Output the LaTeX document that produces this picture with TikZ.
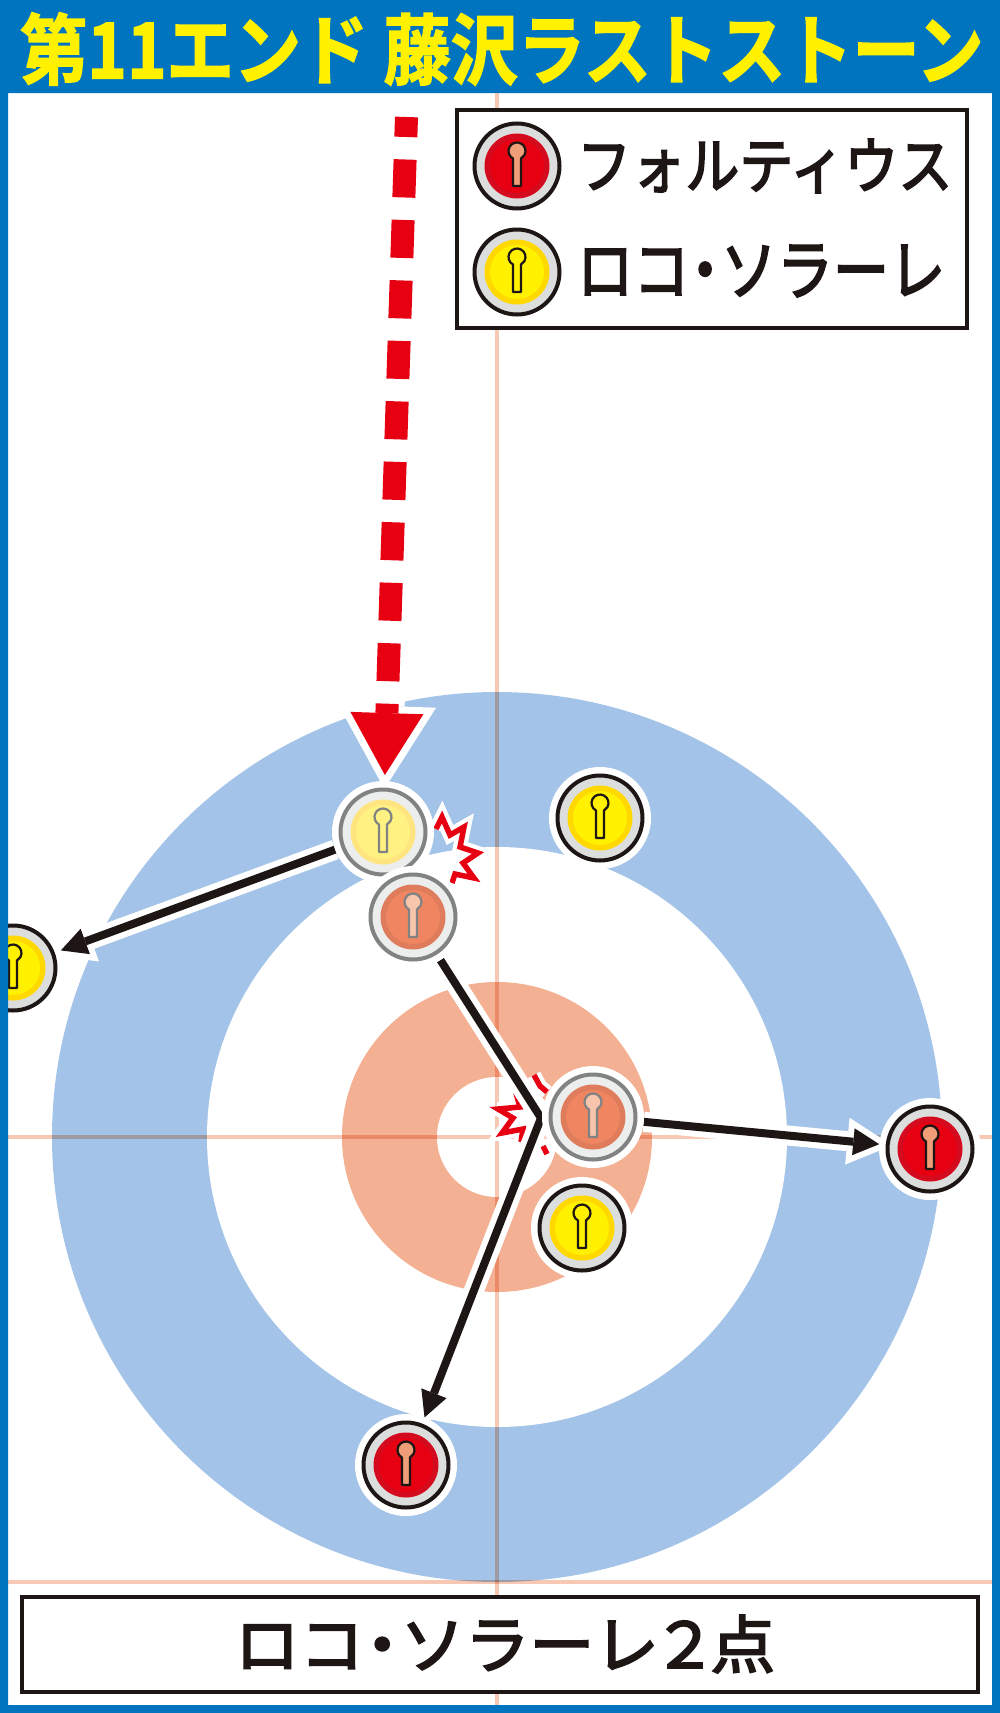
\documentclass[tikz,border=0pt]{standalone}
\usepackage{fontspec}
\newfontfamily\jpfont{Noto Sans CJK JP}
\newfontfamily\jpmed[FakeBold=3]{Noto Sans CJK JP}
\newfontfamily\jphvy[FakeBold=2]{Noto Sans CJK JP Bold}
\usetikzlibrary{arrows.meta}
\definecolor{frameblue}{RGB}{0,116,191}
\definecolor{ttl}{RGB}{255,241,0}
\definecolor{ringblue}{RGB}{163,196,232}
\definecolor{ringorange}{RGB}{244,176,146}
\definecolor{guide}{RGB}{247,201,180}
\definecolor{redarrow}{RGB}{230,0,18}
\definecolor{ink}{RGB}{30,22,20}
\definecolor{stgray}{RGB}{220,221,221}
\definecolor{stgraylt}{RGB}{236,237,237}
\definecolor{fadering}{RGB}{128,130,132}
\definecolor{redout}{RGB}{212,10,30}
\definecolor{redin}{RGB}{230,0,18}
\definecolor{redhandle}{RGB}{240,158,120}
\definecolor{yelout}{RGB}{255,216,0}
\definecolor{yelin}{RGB}{255,241,0}
\definecolor{fyelout}{RGB}{255,229,128}
\definecolor{fyelin}{RGB}{255,242,130}
\definecolor{fredout}{RGB}{222,124,92}
\definecolor{fredin}{RGB}{239,134,97}
\definecolor{fredhandle}{RGB}{247,196,172}
\newcommand\drawstone[7]{%
  \begin{scope}[shift={(#1)}]
    \fill[white] (0,0) circle[radius=51];
    \filldraw[fill=#3,draw=#2,line width=4pt] (0,0) circle[radius=42.5];
    \fill[#4] (0,0) circle[radius=32.5];
    \fill[#5] (0,0) circle[radius=27];
    \filldraw[fill=#6,draw=#7,line width=2.2pt,line join=round]
      (-4,20) -- (-4,-7.5) arc[start angle=118,end angle=422,radius=8.5] -- (4,20) -- cycle;
  \end{scope}}
\newcommand\redstone[1]{\drawstone{#1}{ink}{stgray}{redout}{redin}{redhandle}{ink}}
\newcommand\yelstone[1]{\drawstone{#1}{ink}{stgray}{yelout}{yelin}{yelin}{ink}}
\newcommand\fyelstone[1]{\drawstone{#1}{fadering}{stgraylt}{fyelout}{fyelin}{fyelin}{fadering}}
\newcommand\fredstone[1]{\drawstone{#1}{fadering}{stgraylt}{fredout}{fredin}{fredhandle}{fadering}}
\newcommand\ndot{\kern-0.22em・\kern-0.22em}
\tikzset{
  stonenode/.style={circle, minimum size=102pt, inner sep=0pt, outer sep=0pt},
  guideline/.style={draw=guide, line width=4pt},
  blk/.style={draw=ink, line width=8pt, line join=miter, -{Triangle[length=26pt,width=27pt,line width=0pt]}},
  blkhalo/.style={draw=white, line width=20pt, line join=miter, shorten >=-13pt, -{Triangle[length=45pt,width=47pt,line width=0pt]}},
  spark/.style={draw=redarrow, line width=5.5pt, line join=miter, miter limit=6},
  sparkhalo/.style={draw=white, line width=14pt, line join=miter, miter limit=3},
}
\begin{document}
\begin{tikzpicture}[x=1pt,y=-1pt]
\useasboundingbox (0,0) rectangle (1000,1713);
\fill[white] (0,0) rectangle (1000,1713);
% house
\fill[ringblue] (497,1137) circle[radius=445];
\fill[white] (497,1137) circle[radius=290];
\fill[ringorange] (497,1137) circle[radius=155];
\fill[white] (497,1137) circle[radius=60];
% guide lines
\begin{scope}[blend mode=multiply]
  \draw[guideline] (8,1137) -- (992,1137);
  \draw[guideline] (497,93) -- (497,1705);
  \draw[guideline] (8,1582) -- (992,1582);
\end{scope}
% stone positions
\node[stonenode] (s1) at (383,832) {};
\node[stonenode] (s2) at (413,917) {};
\node[stonenode] (s3) at (600,818) {};
\node[stonenode] (s4) at (13,968) {};
\node[stonenode] (s5) at (593,1117) {};
\node[stonenode] (s6) at (582,1228) {};
\node[stonenode] (s7) at (930,1149) {};
\node[stonenode] (s8) at (406,1465) {};
\coordinate (bend) at (541,1118);
\coordinate (rtop) at (406.5,117);
% red dashed delivery arrow
\draw[draw=white, line width=35pt, shorten >=-8pt, -{Triangle[length=83pt,width=98pt,line width=0pt]}] (rtop) -- (s1);
\draw[draw=redarrow, line width=23pt, dash pattern=on 38pt off 22.5pt, dash phase=18pt, shorten >=6pt, -{Triangle[length=62pt,width=73pt,line width=0pt]}] (rtop) -- (s1);
% impact sparks
\draw[spark, preaction={sparkhalo}] (436,829) -- (442,817) -- (450,835) -- (464,827) -- (460,847) -- (478,853) -- (463,863) -- (474,878) -- (455,874) -- (452,883);
\draw[spark, preaction={sparkhalo}] (516,1093) -- (520,1107) -- (498,1109) -- (513,1118) -- (502,1133) -- (523,1129) -- (521,1142);
\draw[spark, preaction={sparkhalo}] (534,1075) -- (540,1086) -- (547,1092);
\draw[spark, preaction={sparkhalo}] (543,1146) -- (547,1154);
% stone paths
\draw[blkhalo] (s1) -- (s4);
\draw[blk] (s1) -- (s4);
\draw[blkhalo] (s2) -- (bend) -- (s8);
\draw[blk] (s2) -- (bend) -- (s8);
\draw[blkhalo] (s5) -- (s7);
\draw[blk] (s5) -- (s7);
% stones
\yelstone{s4}
\fyelstone{s1}
\fredstone{s2}
\yelstone{s3}
\fredstone{s5}
\yelstone{s6}
\redstone{s7}
\redstone{s8}
% legend
\node[draw=ink, line width=3.5pt, fill=white, minimum width=510pt, minimum height=218pt, inner sep=0pt] (legend) at (712,219) {};
\node[stonenode] (l1) at (517,166) {};
\node[stonenode] (l2) at (517,272) {};
\redstone{l1}
\yelstone{l2}
\node[anchor=west, inner sep=0pt, text=ink] (t1) at (577,166) {\resizebox*{375pt}{54pt}{\jpmed フォルティウス}};
\node[anchor=west, inner sep=0pt, text=ink] (t2) at (577,271) {\resizebox*{368pt}{52pt}{\jpmed ロコ\ndot ソラーレ}};
% result box
\node[draw=ink, line width=4pt, fill=white, minimum width=956pt, minimum height=95pt, inner sep=0pt] (result) at (500,1644.5) {};
\node[inner sep=0pt, text=ink] (rtext) at (505,1644) {\resizebox*{540pt}{58pt}{\jpmed ロコ\ndot ソラーレ\kern-0.1em２\kern-0.1em点}};
% frame and title bar
\fill[frameblue, even odd rule] (0,0) rectangle (1000,1713) (8,93) rectangle (992,1705);
\node[anchor=west, inner sep=0pt, text=ttl] (title) at (20,49) {\resizebox*{963pt}{73pt}{\jphvy 第11エンド 藤沢ラストストーン}};
\end{tikzpicture}
\end{document}
